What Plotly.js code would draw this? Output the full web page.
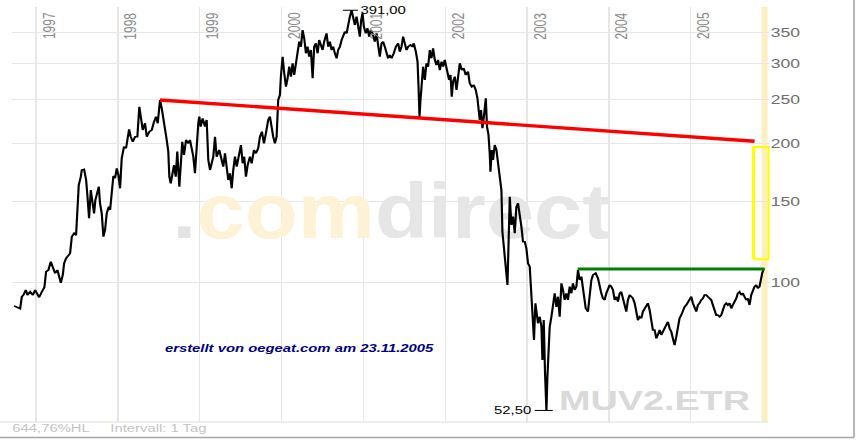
<!DOCTYPE html>
<html>
<head>
<meta charset="utf-8">
<script src="https://cdn.plot.ly/plotly-3.0.1.min.js"></script>
<style>
  html,body{margin:0;padding:0;background:#fff;overflow:hidden;}
  #chart{width:640px;height:447px;transform:scaleX(1.35);transform-origin:0 0;}
  /* the comdirect watermark is set in a narrow face in the original */
  #chart .scatterlayer .trace:first-child .textpoint text{
    transform-box: fill-box; transform-origin: 0% 50%; transform: scaleX(0.835);
  }
</style>
</head>
<body>
<div id="chart"></div>
<script>
// MUV2.ETR daily close (approx.), decimal years
const dates = [
1996.731,1996.764,1996.805,1996.825,1996.845,1996.874,1996.894,1996.927,1996.960,1996.988,
1997.009,1997.037,1997.070,1997.101,1997.122,1997.150,1997.179,1997.204,1997.232,1997.260,
1997.284,1997.302,1997.326,1997.342,1997.366,1997.399,1997.415,1997.436,1997.464,1997.488,
1997.504,1997.521,1997.546,1997.558,1997.586,1997.611,1997.626,1997.647,1997.668,1997.692,
1997.708,1997.724,1997.748,1997.766,1997.781,1997.802,1997.822,1997.842,1997.863,1997.888,
1997.904,1997.924,1997.944,1997.965,1997.985,1998.005,1998.026,1998.046,1998.074,1998.099,
1998.115,1998.136,1998.156,1998.181,1998.209,1998.237,1998.261,1998.278,1998.303,1998.331,
1998.352,1998.383,1998.413,1998.441,1998.465,1998.486,1998.505,1998.514,1998.535,1998.554,
1998.575,1998.596,1998.615,1998.628,1998.645,1998.669,1998.685,1998.706,1998.725,1998.750,
1998.767,1998.786,1998.807,1998.832,1998.860,1998.880,1998.901,1998.921,1998.941,1998.962,
1998.982,1998.994,1999.011,1999.035,1999.064,1999.084,1999.104,1999.125,1999.145,1999.165,
1999.186,1999.206,1999.238,1999.267,1999.287,1999.308,1999.328,1999.348,1999.369,1999.390,
1999.409,1999.430,1999.451,1999.482,1999.503,1999.524,1999.543,1999.564,1999.585,1999.613,
1999.634,1999.662,1999.686,1999.714,1999.735,1999.759,1999.784,1999.808,1999.836,1999.857,
1999.878,1999.897,1999.918,1999.939,1999.958,1999.979,1999.991,2000.012,2000.032,2000.053,
2000.073,2000.093,2000.114,2000.134,2000.154,2000.175,2000.195,2000.215,2000.236,2000.256,
2000.276,2000.297,2000.317,2000.337,2000.358,2000.379,2000.398,2000.419,2000.440,2000.459,
2000.480,2000.501,2000.520,2000.549,2000.569,2000.590,2000.611,2000.630,2000.651,2000.672,
2000.691,2000.712,2000.733,2000.752,2000.773,2000.794,2000.813,2000.834,2000.855,2000.874,
2000.895,2000.916,2000.935,2000.956,2000.972,2000.989,2001.005,2001.029,2001.050,2001.070,
2001.090,2001.111,2001.139,2001.160,2001.179,2001.200,2001.221,2001.240,2001.261,2001.282,
2001.301,2001.322,2001.343,2001.371,2001.396,2001.424,2001.444,2001.465,2001.485,2001.505,
2001.526,2001.546,2001.575,2001.600,2001.615,2001.640,2001.661,2001.673,2001.685,2001.697,
2001.709,2001.729,2001.750,2001.770,2001.790,2001.811,2001.831,2001.851,2001.872,2001.892,
2001.912,2001.933,2001.954,2001.973,2001.994,2002.015,2002.046,2002.064,2002.079,2002.095,
2002.116,2002.137,2002.156,2002.177,2002.202,2002.226,2002.250,2002.278,2002.299,2002.324,
2002.348,2002.372,2002.393,2002.405,2002.421,2002.437,2002.454,2002.474,2002.495,2002.510,
2002.528,2002.543,2002.552,2002.568,2002.584,2002.604,2002.625,2002.645,2002.665,2002.686,
2002.698,2002.714,2002.730,2002.747,2002.760,2002.772,2002.788,2002.808,2002.828,2002.849,
2002.869,2002.889,2002.910,2002.930,2002.950,2002.971,2002.991,2003.011,2003.032,2003.044,
2003.060,2003.072,2003.084,2003.101,2003.117,2003.133,2003.154,2003.175,2003.187,2003.203,
2003.219,2003.227,2003.236,2003.248,2003.260,2003.276,2003.297,2003.316,2003.337,2003.358,
2003.377,2003.398,2003.419,2003.438,2003.459,2003.480,2003.499,2003.520,2003.541,2003.560,
2003.581,2003.602,2003.622,2003.642,2003.663,2003.691,2003.716,2003.744,2003.764,2003.785,
2003.805,2003.838,2003.866,2003.886,2003.907,2003.927,2003.948,2003.968,2003.988,2004.009,
2004.029,2004.049,2004.070,2004.090,2004.110,2004.131,2004.151,2004.171,2004.192,2004.212,
2004.232,2004.253,2004.274,2004.293,2004.314,2004.335,2004.354,2004.375,2004.396,2004.415,
2004.436,2004.457,2004.476,2004.497,2004.518,2004.537,2004.558,2004.579,2004.598,2004.619,
2004.640,2004.659,2004.680,2004.701,2004.720,2004.741,2004.762,2004.781,2004.802,2004.823,
2004.843,2004.863,2004.884,2004.904,2004.924,2004.945,2004.965,2004.985,2005.006,2005.026,
2005.046,2005.067,2005.087,2005.107,2005.128,2005.148,2005.168,2005.189,2005.209,2005.230,
2005.250,2005.270,2005.291,2005.311,2005.331,2005.352,2005.372,2005.392,2005.413,2005.433,
2005.453,2005.474,2005.495,2005.514,2005.535,2005.556,2005.575,2005.596,2005.617,2005.636,
2005.657,2005.678,2005.697,2005.718,2005.739,2005.758,2005.779,2005.800,2005.819,2005.840,
2005.852,2005.873,2005.893
];
const prices = [
88.7,88.2,87.5,92.9,93.7,96.1,93.7,95.2,93.7,96.1,
94.6,92.6,95.2,97.4,105.3,106.2,110.7,108.0,104.5,106.2,
102.7,99.6,103.6,109.8,112.6,114.5,115.5,125.5,127.7,126.4,
141.1,162.7,169.6,175.4,176.0,166.8,154.7,137.7,158.6,147.2,
141.1,150.9,158.6,161.3,148.4,141.1,125.5,129.8,141.1,145.9,
143.5,156.0,170.2,168.3,176.9,171.1,160.0,186.0,197.1,195.6,
205.6,215.1,207.3,202.1,207.3,207.3,240.9,229.2,214.4,221.7,
207.3,212.6,214.4,223.5,229.2,221.7,243.0,249.2,239.0,229.2,
214.4,203.9,192.3,169.6,164.1,175.4,179.8,169.6,192.3,161.3,
175.4,202.1,189.1,203.9,200.5,203.9,195.6,187.5,172.5,205.6,
221.7,229.2,218.0,227.3,218.0,225.4,184.4,175.4,182.8,187.5,
207.3,187.5,193.9,184.4,178.3,190.7,173.9,166.8,172.5,160.0,
175.4,187.5,178.3,190.7,198.8,181.4,187.5,169.6,179.8,187.5,
181.4,193.9,190.7,195.6,207.3,212.6,200.5,210.9,225.4,229.2,
212.6,207.3,200.5,207.3,249.2,255.5,280.1,309.6,284.9,266.4,
277.8,294.5,280.1,299.6,282.5,299.6,320.2,333.9,325.6,354.0,
339.6,315.0,325.6,309.6,320.2,277.8,325.6,331.2,315.0,336.7,
328.4,320.2,333.9,348.2,325.6,333.9,320.2,325.6,315.0,307.2,
320.2,325.6,336.7,342.3,351.0,348.2,366.1,378.4,391.0,372.2,
363.0,378.4,357.1,342.3,372.2,384.9,359.9,348.2,357.1,342.3,
354.0,348.2,333.9,348.2,328.4,309.6,331.2,333.9,325.6,315.0,
307.2,312.3,307.2,315.0,325.6,331.2,317.5,325.6,342.3,331.2,
320.2,325.6,328.4,325.6,331.2,317.5,302.0,266.4,228.8,249.2,
266.4,294.5,275.5,299.6,294.5,320.2,307.2,323.0,304.6,297.0,
304.6,289.6,302.0,294.5,304.6,289.6,275.5,282.5,253.4,273.1,
280.1,262.0,284.9,299.6,289.6,292.1,282.5,287.2,271.0,266.4,
268.7,262.0,251.3,240.9,225.4,237.0,216.2,231.1,251.3,218.0,
209.1,190.7,173.9,193.9,184.4,198.8,193.9,181.4,169.6,158.6,
128.7,119.4,111.7,106.2,98.5,119.4,153.4,133.1,138.8,127.7,
145.9,148.4,136.5,132.0,122.4,122.4,118.4,109.8,108.0,96.1,
88.3,81.3,74.8,89.9,85.5,81.3,84.0,79.9,67.6,82.6,
63.3,55.3,52.5,62.2,69.9,79.9,84.0,89.9,94.5,88.3,
92.9,84.0,99.3,96.1,91.4,94.5,91.4,97.7,94.5,99.3,
96.1,97.7,106.2,101.0,102.7,94.5,87.6,86.2,92.9,101.0,
103.6,104.5,101.9,97.7,94.5,92.1,91.4,94.5,96.1,98.5,
97.7,96.1,91.4,92.9,90.6,94.5,95.2,92.1,88.3,86.2,
91.4,93.7,92.9,92.1,89.9,84.7,82.6,84.0,83.4,86.2,
87.6,89.1,89.9,86.9,81.9,78.6,78.6,75.4,76.7,78.6,
76.7,77.9,79.3,81.3,81.9,79.3,77.9,75.4,72.9,76.0,
79.9,83.4,84.7,86.9,88.3,89.1,90.6,91.4,92.9,89.9,
87.6,86.2,89.1,89.9,91.4,92.1,93.7,93.7,92.9,92.1,
91.4,89.1,86.2,84.7,84.7,84.0,84.7,86.9,89.1,89.9,
89.1,89.9,87.6,89.1,90.6,92.1,94.5,95.2,93.7,94.5,
92.9,91.4,92.1,89.1,93.7,96.1,97.7,98.5,96.9,97.7,
101.0,104.5,107.1
];

// trend lines drawn on the chart
const resistDates = [1998.514, 2005.779];
const resistValues = [249.2, 202.6];
const breakoutDates = [2003.618, 2005.901];
const breakoutValues = [106.7, 106.7];

// yellow target box (date span, price span)
const boxDates = [2005.767, 2005.955];
const boxValues = [112.2, 196.8];

// year gridlines / labels
const years = [1997,1998,1999,2000,2001,2002,2003,2004,2005];
const yearLabels = ["1997","1998","1999","2000","2001","2002","2003","2004","2005"];

// right axis ticks
const yTicks = [100,150,200,250,300,350];
const yTickLabels = ["100","150","200","250","300","350"];

// extremes
const highDate = 2000.855, highValue = 391.00, highText = "391,00";
const lowDate = 2003.236, lowValue = 52.50, lowText = "52,50";

// watermark anchor (date, price)
const wmDate = 1998.665, wmValue = 137.2;

const L = Math.log10;
const FONT = 'Liberation Sans, Arial, sans-serif';

const traces = [
  // watermark, kept under the price line
  {x: [wmDate], y: [wmValue], type: 'scatter', mode: 'text', textposition: 'middle right',
   text: ['<span style="color:#e4e4e4">.</span><span style="color:#fdf1d6">com</span><span style="color:#e6e6e6">direct</span>'],
   textfont: {family: FONT, size: 77, weight: 700, color: '#e6e6e6'}, hoverinfo: 'skip'},
  {x: dates, y: prices, type: 'scatter', mode: 'lines',
   line: {color: '#000000', width: 1.6}, hoverinfo: 'skip'},
  {x: resistDates, y: resistValues, type: 'scatter', mode: 'lines',
   line: {color: '#ff0000', width: 3.3}, hoverinfo: 'skip'},
  {x: breakoutDates, y: breakoutValues, type: 'scatter', mode: 'lines',
   line: {color: '#008000', width: 3}, hoverinfo: 'skip'},
  {x: [boxDates[0], boxDates[1], boxDates[1], boxDates[0], boxDates[0]],
   y: [boxValues[0], boxValues[0], boxValues[1], boxValues[1], boxValues[0]],
   type: 'scatter', mode: 'lines', line: {color: '#ffff00', width: 2.3}, hoverinfo: 'skip'},
  {x: [highDate - 0.106, highDate + 0.077], y: [highValue, highValue], type: 'scatter', mode: 'lines',
   line: {color: '#000000', width: 1}, hoverinfo: 'skip'},
  {x: [lowDate - 0.143, lowDate + 0.077], y: [lowValue, lowValue], type: 'scatter', mode: 'lines',
   line: {color: '#000000', width: 1}, hoverinfo: 'skip'}
];

const annotations = [];
years.forEach((yr, i) => {
  annotations.push({
    x: yr, xref: 'x', y: 0.992, yref: 'paper',
    text: yearLabels[i], showarrow: false, textangle: -90,
    xanchor: 'left', yanchor: 'top', xshift: 0.5,
    font: {family: FONT, size: 12, color: '#8a8a8a'}
  });
});
annotations.push(
  {x: 0.718, xref: 'paper', y: 0.052, yref: 'paper', xanchor: 'left', yanchor: 'middle', showarrow: false,
   text: 'MUV2.ETR',
   font: {family: FONT, size: 28, weight: 700, color: '#d9d9d9'}},
  {x: 0.197, xref: 'paper', y: 0.178, yref: 'paper', xanchor: 'left', yanchor: 'middle', showarrow: false,
   text: '<b><i>erstellt von oegeat.com am 23.11.2005</i></b>',
   font: {family: FONT, size: 11, color: '#000080'}},
  {x: -0.004, xref: 'paper', y: -0.0145, yref: 'paper', xanchor: 'left', yanchor: 'middle', showarrow: false,
   text: '644,76%HL\u00a0\u00a0\u00a0\u00a0\u00a0Intervall: 1 Tag',
   font: {family: FONT, size: 11, color: '#c4c4c4'}},
  {x: highDate + 0.077, xref: 'x', y: L(highValue), yref: 'y', xanchor: 'left', yanchor: 'middle', showarrow: false,
   text: highText, font: {family: FONT, size: 11, color: '#000'}},
  {x: lowDate - 0.143, xref: 'x', y: L(lowValue), yref: 'y', xanchor: 'right', yanchor: 'middle', showarrow: false,
   text: lowText, font: {family: FONT, size: 11, color: '#000'}}
);

const shapes = [
  // "today" band
  {type: 'rect', xref: 'x', yref: 'paper', x0: 2005.865, x1: 2005.938, y0: 0, y1: 1,
   fillcolor: '#fdf0c0', line: {width: 0}, layer: 'between'},
  // plot bottom line
  {type: 'line', xref: 'paper', yref: 'paper', x0: -0.016, x1: 0.9985, y0: 0, y1: 0,
   line: {color: '#dddddd', width: 1}},
  // outer frame (right & bottom)
  {type: 'line', xref: 'paper', yref: 'paper', x0: 1.1116, x1: 1.1116, y0: -0.0373, y1: 1.02,
   line: {color: '#a6a6a6', width: 1.2}},
  {type: 'line', xref: 'paper', yref: 'paper', x0: -0.02, x1: 1.1116, y0: -0.0373, y1: -0.0373,
   line: {color: '#a6a6a6', width: 1.5}}
];

const layout = {
  width: 640, height: 447,
  margin: {l: 9, r: 70, t: 7, b: 25, pad: 0},
  paper_bgcolor: '#ffffff', plot_bgcolor: '#ffffff',
  showlegend: false,
  font: {family: FONT},
  xaxis: {
    type: 'linear', range: [1996.707, 2005.962],
    tickmode: 'array', tickvals: years, showticklabels: false, ticks: '',
    showgrid: true, gridcolor: '#e6e6e6', gridwidth: 1, zeroline: false, showline: false
  },
  yaxis: {
    type: 'log', range: [1.69499, 2.59913], side: 'right',
    tickmode: 'array', tickvals: yTicks, ticktext: yTickLabels, ticks: '', ticklen: 0,
    tickfont: {family: FONT, size: 13, color: '#6e6e6e'},
    showgrid: true, gridcolor: '#e6e6e6', gridwidth: 1, zeroline: false, showline: false
  },
  annotations: annotations,
  shapes: shapes
};

Plotly.newPlot('chart', traces, layout, {staticPlot: true, displayModeBar: false});
</script>
</body>
</html>
